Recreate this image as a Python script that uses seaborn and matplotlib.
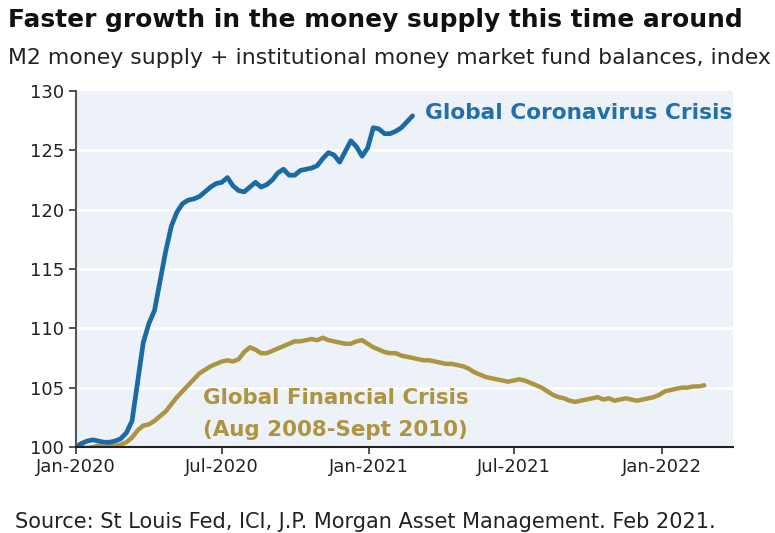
import matplotlib
matplotlib.use("Agg")
import matplotlib.pyplot as plt
import seaborn as sns
import pandas as pd

# ---- data (weekly index, both aligned to start Jan-2020) ----
covid_values = [
    100.0, 100.3, 100.5, 100.6, 100.5, 100.4, 100.4, 100.5, 100.7, 101.2,
    102.2, 105.5, 108.8, 110.4, 111.5, 114.0, 116.5, 118.6, 119.8, 120.5,
    120.8, 120.9, 121.1, 121.5, 121.9, 122.2, 122.3, 122.7, 122.0, 121.6,
    121.5, 121.9, 122.3, 121.9, 122.1, 122.5, 123.1, 123.4, 122.9, 122.9,
    123.3, 123.4, 123.5, 123.7, 124.3, 124.8, 124.6, 124.0, 124.9, 125.8,
    125.3, 124.5, 125.2, 126.9, 126.8, 126.4, 126.4, 126.6, 126.9, 127.4,
    127.9,
]
gfc_values = [
    100.0, 100.0, 99.9, 100.0, 100.1, 100.0, 100.1, 100.1, 100.2, 100.4,
    100.8, 101.4, 101.8, 101.9, 102.2, 102.6, 103.0, 103.6, 104.2, 104.7,
    105.2, 105.7, 106.2, 106.5, 106.8, 107.0, 107.2, 107.3, 107.2, 107.4,
    108.0, 108.4, 108.2, 107.9, 107.9, 108.1, 108.3, 108.5, 108.7, 108.9,
    108.9, 109.0, 109.1, 109.0, 109.2, 109.0, 108.9, 108.8, 108.7, 108.7,
    108.9, 109.0, 108.7, 108.4, 108.2, 108.0, 107.9, 107.9, 107.7, 107.6,
    107.5, 107.4, 107.3, 107.3, 107.2, 107.1, 107.0, 107.0, 106.9, 106.8,
    106.6, 106.3, 106.1, 105.9, 105.8, 105.7, 105.6, 105.5, 105.6, 105.7,
    105.6, 105.4, 105.2, 105.0, 104.7, 104.4, 104.2, 104.1, 103.9, 103.8,
    103.9, 104.0, 104.1, 104.2, 104.0, 104.1, 103.9, 104.0, 104.1, 104.0,
    103.9, 104.0, 104.1, 104.2, 104.4, 104.7, 104.8, 104.9, 105.0, 105.0,
    105.1, 105.1, 105.2,
]
start_date = "2020-01-01"
x_min, x_max = "2020-01-01", "2022-03-31"
y_ticks = [100, 105, 110, 115, 120, 125, 130]
x_tick_dates = ["2020-01-01", "2020-07-01", "2021-01-01", "2021-07-01", "2022-01-01"]
x_tick_labels = ["Jan-2020", "Jul-2020", "Jan-2021", "Jul-2021", "Jan-2022"]

title = "Faster growth in the money supply this time around"
subtitle = "M2 money supply + institutional money market fund balances, index"
source = "Source: St Louis Fed, ICI, J.P. Morgan Asset Management. Feb 2021."
covid_label = "Global Coronavirus Crisis"
gfc_label_1 = "Global Financial Crisis"
gfc_label_2 = "(Aug 2008-Sept 2010)"

covid_df = pd.DataFrame({
    "date": pd.date_range(start_date, periods=len(covid_values), freq="7D"),
    "value": covid_values,
})
gfc_df = pd.DataFrame({
    "date": pd.date_range(start_date, periods=len(gfc_values), freq="7D"),
    "value": gfc_values,
})

sns.set_theme(style="white")
plt.rcParams["font.family"] = ["DejaVu Sans"]

BLUE = "#1c6aa3"
LABEL_BLUE = "#2270aa"
GOLD = "#ad9440"
BG = "#edf1f8"

fig = plt.figure(figsize=(7.75, 5.33), dpi=100)
ax = fig.add_axes([0.098, 0.1614, 0.848, 0.668])
ax.set_facecolor(BG)

sns.lineplot(data=gfc_df, x="date", y="value", ax=ax, color=GOLD, linewidth=3.2)
sns.lineplot(data=covid_df, x="date", y="value", ax=ax, color=BLUE, linewidth=3.4)

ax.set_ylim(100, 130)
ax.set_xlim(pd.Timestamp(x_min), pd.Timestamp(x_max))
ax.set_yticks(y_ticks)
ax.set_xticks([pd.Timestamp(d) for d in x_tick_dates])
ax.set_xticklabels(x_tick_labels)
ax.set_xlabel("")
ax.set_ylabel("")

for y in y_ticks[1:-1]:
    ax.axhline(y, color="white", linewidth=1.8, zorder=0.5)

for s in ["top", "right"]:
    ax.spines[s].set_visible(False)
ax.spines["left"].set_color("#555555")
ax.spines["left"].set_linewidth(1.5)
ax.spines["bottom"].set_color("#222222")
ax.spines["bottom"].set_linewidth(1.5)
ax.tick_params(axis="both", which="major", direction="out", length=5, width=1.2,
               colors="#333333", labelsize=13, labelcolor="#222222", bottom=True, left=True)
ax.tick_params(axis="x", pad=3)

ax.text(pd.Timestamp("2021-03-11"), 128.1, covid_label, color=LABEL_BLUE,
        fontsize=15.6, fontweight="bold", ha="left", va="center")
ax.text(pd.Timestamp("2020-11-20"), 104.1, gfc_label_1, color=GOLD,
        fontsize=15.4, fontweight="bold", ha="center", va="center")
ax.text(pd.Timestamp("2020-11-20"), 101.4, gfc_label_2, color=GOLD,
        fontsize=15.4, fontweight="bold", ha="center", va="center")

fig.text(0.010, 0.962, title, fontsize=17.9, fontweight="bold", color="#111111",
         ha="left", va="center")
fig.text(0.010, 0.891, subtitle, fontsize=15.8, color="#222222", ha="left", va="center")
fig.text(0.019, 0.020, source, fontsize=15, color="#222222", ha="left", va="center")

fig.savefig("out.png", dpi=100)
